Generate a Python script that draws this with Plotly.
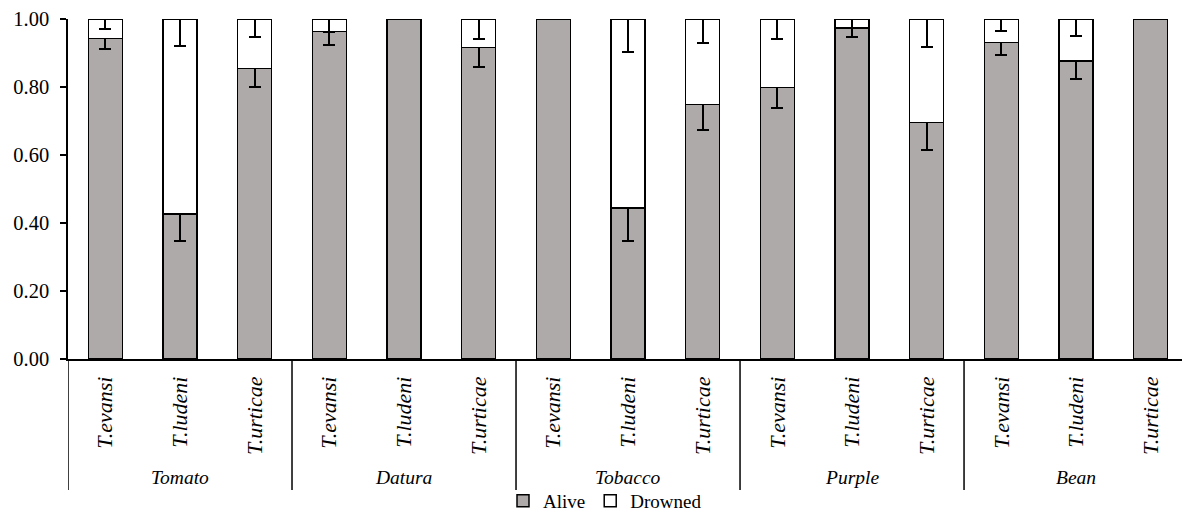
import plotly.graph_objects as go

# Host plants (outer level) and mite species (inner level)
hosts = ["Tomato", "Datura", "Tobacco", "Purple", "Bean"]
species = ["T.evansi", "T.ludeni", "T.urticae"]

# Proportions per host x species, in host order
alive = [0.943, 0.426, 0.855,
         0.963, 1.000, 0.916,
         1.000, 0.444, 0.749,
         0.799, 0.973, 0.696,
         0.931, 0.877, 1.000]
drowned = [0.057, 0.574, 0.145,
           0.037, 0.000, 0.084,
           0.000, 0.556, 0.251,
           0.201, 0.027, 0.304,
           0.069, 0.123, 0.000]
alive_err = [0.030, 0.078, 0.055,
             0.040, 0.000, 0.057,
             0.000, 0.097, 0.074,
             0.060, 0.027, 0.080,
             0.038, 0.053, 0.000]
drowned_err = [0.030, 0.079, 0.054,
               0.037, 0.000, 0.058,
               0.000, 0.098, 0.072,
               0.060, 0.027, 0.081,
               0.035, 0.050, 0.000]

y_ticks = [0.0, 0.2, 0.4, 0.6, 0.8, 1.0]

FONT = "Liberation Serif, Times New Roman, serif"
GREY = "#AEAAAA"

n_sp = len(species)
x_pos = list(range(len(hosts) * n_sp))
tick_text = [f"<i>{s}</i>" for _ in hosts for s in species]

W, H = 1182, 513
M_L, M_T, M_B = 68, 19, 154
plot_h = H - M_T - M_B
slot = 74.67
plot_w = W - M_L
x_end = -0.5 + plot_w / slot


def px_to_paper_y(py):
    """Convert a page row (px from top) to paper y of the plot area."""
    return (H - M_B - py) / plot_h


fig = go.Figure()
fig.add_trace(go.Bar(
    x=x_pos, y=alive, name="Alive", width=0.455,
    marker=dict(color=GREY, line=dict(color="black", width=1.5)),
    error_y=dict(type="data", array=alive_err, visible=True,
                 color="black", thickness=2, width=6),
))
fig.add_trace(go.Bar(
    x=x_pos, y=drowned, name="Drowned", width=0.455,
    marker=dict(color="white", line=dict(color="black", width=1.5)),
    error_y=dict(type="data", symmetric=False,
                 array=[0] * len(drowned), arrayminus=drowned_err,
                 visible=True, color="black", thickness=2, width=6),
))

# Group dividers and host labels below the species labels
shapes = []
annotations = []
for g, host in enumerate(hosts):
    left = g * n_sp - 0.5
    shapes.append(dict(type="line", xref="x", yref="paper",
                       x0=left, x1=left, y0=0, y1=px_to_paper_y(490),
                       line=dict(color="black", width=1.5)))
    annotations.append(dict(text=f"<i>{host}</i>", xref="x", yref="paper",
                            x=g * n_sp + (n_sp - 1) / 2, y=px_to_paper_y(477),
                            showarrow=False, yanchor="middle",
                            font=dict(family=FONT, size=19.5, color="black")))

fig.update_layout(
    width=W, height=H,
    margin=dict(l=M_L, r=0, t=M_T, b=M_B, autoexpand=False),
    barmode="stack",
    plot_bgcolor="white", paper_bgcolor="white",
    font=dict(family=FONT, size=20, color="black"),
    showlegend=True,
    legend=dict(orientation="h", x=(503 - M_L) / plot_w, xref="paper",
                xanchor="left",
                y=px_to_paper_y(501), yanchor="middle", traceorder="normal",
                font=dict(family=FONT, size=19, color="black"),
                itemwidth=30, tracegroupgap=0, bgcolor="rgba(0,0,0,0)"),
    shapes=shapes,
    annotations=annotations,
    xaxis=dict(range=[-0.5, x_end], tickmode="array", tickvals=x_pos,
               ticktext=tick_text, tickangle=-90, ticks="",
               ticklabelstandoff=7, automargin=False,
               showline=True, linecolor="black", linewidth=1.5,
               showgrid=False, zeroline=False,
               tickfont=dict(family=FONT, size=22, color="black")),
    yaxis=dict(range=[0, 1], tickmode="array", tickvals=y_ticks,
               tickformat=".2f", ticks="outside", ticklen=6,
               tickwidth=1.5, tickcolor="black", ticklabelstandoff=7,
               automargin=False,
               showline=True, linecolor="black", linewidth=1.5,
               showgrid=False, zeroline=False,
               tickfont=dict(family=FONT, size=20.5, color="black")),
)

fig.write_html("out.html")
